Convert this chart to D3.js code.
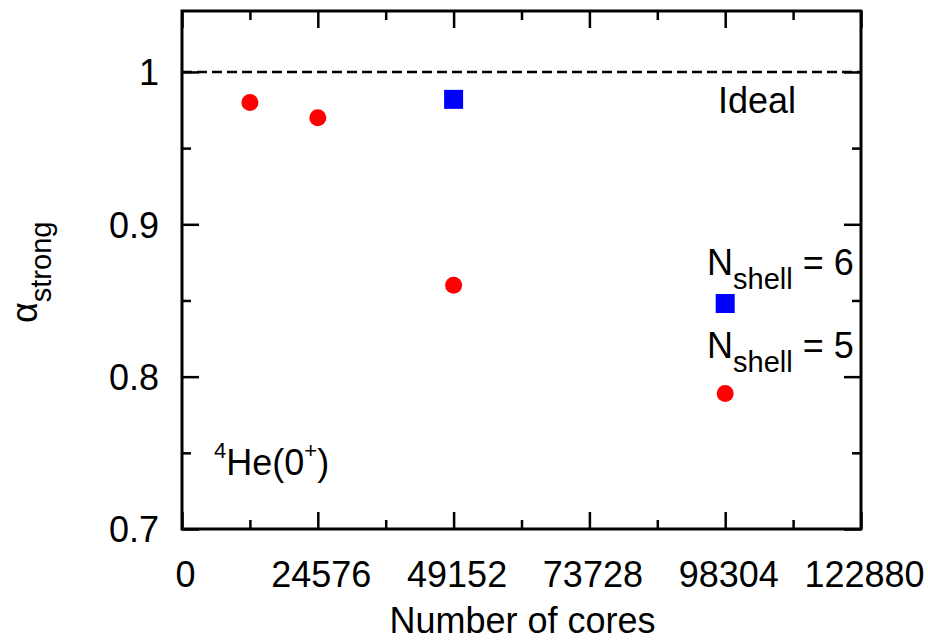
<!DOCTYPE html>
<html>
<head>
<meta charset="utf-8">
<script src="https://cdn.jsdelivr.net/npm/d3@7"></script>
<style>
  body { margin: 0; background: #fff; }
  svg { font-family: "Liberation Sans", Arial, sans-serif; }
  .axis path { display: none; }
  .axis line { stroke: #000; stroke-width: 2.5; }
  .axis text { font-size: 36px; fill: #000; }
</style>
</head>
<body>
<svg id="chart" width="928" height="640"></svg>
<script>
// data
var nshell5Cores = [12288, 24576, 49152, 98304];
var nshell5Alpha = [0.980, 0.970, 0.860, 0.789];
var nshell6Cores = [49152, 98304];
var nshell6Alpha = [0.982, 0.848];

var xMajor = [0, 24576, 49152, 73728, 98304, 122880];
var xMinor = [12288, 36864, 61440, 86016, 110592];
var yMajor = [0.7, 0.8, 0.9, 1.0];
var yMinor = [0.75, 0.85, 0.95];
var idealValue = 1.0;

// plot box (note: "top" is taken by window.top)
var pLeft = 182, pRight = 861, pTop = 11, pBottom = 529;

var svg = d3.select("#chart");

var x = d3.scaleLinear().domain([0, 122880]).range([pLeft, pRight]);
var y = d3.scaleLinear().domain([0.7, 1.04]).range([pBottom, pTop]);

function fmtY(d) { return d === 1 ? "1" : d3.format(".1f")(d); }

// major / minor ticks, inward on all four sides
svg.append("g").attr("class", "axis")
  .attr("transform", "translate(0," + pBottom + ")")
  .call(d3.axisBottom(x).tickValues(xMajor).tickSize(-17).tickPadding(32).tickFormat(d3.format("d")))
  .selectAll("text").attr("dx", 3);
svg.append("g").attr("class", "axis")
  .attr("transform", "translate(0," + pBottom + ")")
  .call(d3.axisBottom(x).tickValues(xMinor).tickSize(-9).tickFormat(""));
svg.append("g").attr("class", "axis")
  .attr("transform", "translate(0," + pTop + ")")
  .call(d3.axisTop(x).tickValues(xMajor).tickSize(-17).tickFormat(""));
svg.append("g").attr("class", "axis")
  .attr("transform", "translate(0," + pTop + ")")
  .call(d3.axisTop(x).tickValues(xMinor).tickSize(-9).tickFormat(""));

svg.append("g").attr("class", "axis")
  .attr("transform", "translate(" + pLeft + ",0)")
  .call(d3.axisLeft(y).tickValues(yMajor).tickSize(-17).tickPadding(23).tickFormat(fmtY))
  .selectAll("text").attr("dy", "0.36em");
svg.append("g").attr("class", "axis")
  .attr("transform", "translate(" + pLeft + ",0)")
  .call(d3.axisLeft(y).tickValues(yMinor).tickSize(-9).tickFormat(""));
svg.append("g").attr("class", "axis")
  .attr("transform", "translate(" + pRight + ",0)")
  .call(d3.axisRight(y).tickValues(yMajor).tickSize(-17).tickFormat(""));
svg.append("g").attr("class", "axis")
  .attr("transform", "translate(" + pRight + ",0)")
  .call(d3.axisRight(y).tickValues(yMinor).tickSize(-9).tickFormat(""));

// frame
svg.append("rect")
  .attr("x", pLeft).attr("y", pTop)
  .attr("width", pRight - pLeft).attr("height", pBottom - pTop)
  .attr("fill", "none").attr("stroke", "#000").attr("stroke-width", 3);

// ideal line
svg.append("line")
  .attr("x1", pLeft).attr("x2", pRight)
  .attr("y1", y(idealValue)).attr("y2", y(idealValue))
  .attr("stroke", "#000").attr("stroke-width", 2.5)
  .attr("stroke-dasharray", "10,5");

// points
svg.selectAll(".n5").data(nshell5Cores).enter().append("circle")
  .attr("class", "n5")
  .attr("cx", function(d) { return x(d); })
  .attr("cy", function(d, i) { return y(nshell5Alpha[i]); })
  .attr("r", 8.5)
  .attr("fill", "#ff0000");

svg.selectAll(".n6").data(nshell6Cores).enter().append("rect")
  .attr("class", "n6")
  .attr("x", function(d) { return x(d) - 9.5; })
  .attr("y", function(d, i) { return y(nshell6Alpha[i]) - 9.5; })
  .attr("width", 19).attr("height", 19)
  .attr("fill", "#0000ff");

// labels
svg.append("text").attr("x", 718).attr("y", 113)
  .attr("font-size", 36).text("Ideal");

function nshellLabel(yy, n) {
  var t = svg.append("text").attr("x", 707).attr("y", yy).attr("font-size", 36);
  t.append("tspan").text("N");
  t.append("tspan").attr("font-size", 29).attr("dy", 14).text("shell");
  t.append("tspan").attr("dy", -14).text(" = " + n);
}
nshellLabel(275, 6);
nshellLabel(358, 5);

var he = svg.append("text").attr("x", 214).attr("y", 475).attr("font-size", 36);
he.append("tspan").attr("font-size", 22).attr("dy", -17).text("4");
he.append("tspan").attr("dy", 17).text("He(0");
he.append("tspan").attr("font-size", 22).attr("dy", -17).text("+");
he.append("tspan").attr("dy", 17).text(")");

svg.append("text")
  .attr("x", (pLeft + pRight) / 2 + 1).attr("y", 633)
  .attr("text-anchor", "middle").attr("font-size", 36)
  .text("Number of cores");

var yl = svg.append("text")
  .attr("transform", "translate(37,323) rotate(-90)")
  .attr("font-size", 36);
yl.append("tspan").text("α");
yl.append("tspan").attr("font-size", 29).attr("dy", 14).text("strong");
</script>
</body>
</html>
